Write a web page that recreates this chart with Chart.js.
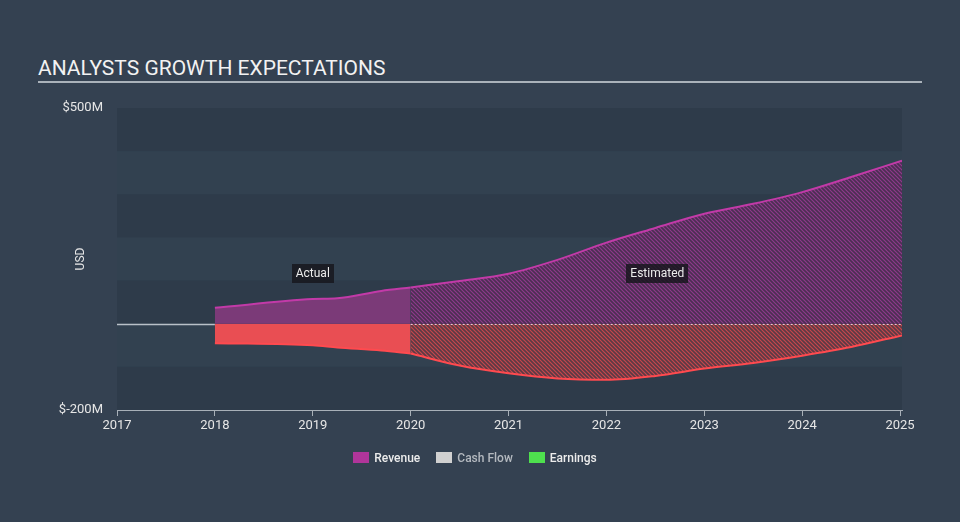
<!DOCTYPE html>
<html>
<head>
<meta charset="utf-8">
<script src="https://cdn.jsdelivr.net/npm/chart.js@4/dist/chart.umd.min.js"></script>
<style>
  html, body { margin:0; padding:0; background:#344151; }
  body { width:960px; height:522px; position:relative; overflow:hidden; font-family:Roboto, "Open Sans", sans-serif; }
  #title { position:absolute; left:38px; top:56px; font-size:21px; color:#f2f2f2; letter-spacing:0; white-space:nowrap; }
  #rule { position:absolute; left:38px; top:81px; width:884px; height:2px; background:#aab2ba; }
  #wrap { position:absolute; left:0; top:0; width:960px; height:522px; }
  #legend { position:absolute; left:-5px; width:960px; top:450px; text-align:center; font-size:12px; font-weight:500; }
  .li { display:inline-block; margin:0 8px; vertical-align:middle; }
  .sw { display:inline-block; width:16px; height:11px; vertical-align:-1px; margin-right:5px; }
</style>
</head>
<body>
<div id="title">ANALYSTS GROWTH EXPECTATIONS</div>
<div id="rule"></div>
<div id="wrap"><canvas id="c" width="960" height="522"></canvas></div>
<div id="legend"></div>
<script>
// ---- data ----
const years = [2017, 2018, 2019, 2020, 2021, 2022, 2023, 2024, 2025];
const revenueActualX = [2018, 2019, 2019.25, 2019.7, 2020];
const revenueActualY = [37, 57, 59, 76, 84];
const revenueEstX = [2020, 2020.5, 2021, 2021.5, 2022, 2022.5, 2023, 2023.5, 2024, 2024.5, 2025.02];
const revenueEstY = [84, 99, 116, 148, 188, 222, 255, 278, 305, 340, 378];
const earningsActualX = [2018, 2019, 2019.25, 2019.7, 2020];
const earningsActualY = [-45, -50, -55, -62, -69];
const earningsEstX = [2020, 2020.5, 2021, 2021.5, 2022, 2022.5, 2023, 2023.5, 2024, 2024.5, 2025.02];
const earningsEstY = [-69, -97, -115, -127, -130, -121, -104, -91, -74, -54, -27];
const yTickLabels = { 500: '$500M', '-200': '$-200M' };
const legendNames = ['Revenue', 'Cash Flow', 'Earnings'];
const notes = [{ text: 'Actual', x: 2019, y: 117 }, { text: 'Estimated', x: 2022.52, y: 117 }];

const zip = (xs, ys) => xs.map((x, i) => ({ x, y: ys[i] }));

const ctx = document.getElementById('c').getContext('2d');
function hatch(bg, line) {
  const c = document.createElement('canvas');
  c.width = 4; c.height = 4;
  const g = c.getContext('2d');
  g.fillStyle = bg; g.fillRect(0, 0, 4, 4);
  g.strokeStyle = line; g.lineWidth = 1.2;
  g.beginPath();
  g.moveTo(0, 0); g.lineTo(4, 4);
  g.moveTo(-1, 3); g.lineTo(1, 5);
  g.moveTo(3, -1); g.lineTo(5, 1);
  g.stroke();
  return ctx.createPattern(c, 'repeat');
}

const revLine = '#c23aa8';
const earnLine = '#ff4a4f';

// legend (HTML)
const legendColors = ['#b0359a', '#d0d0d0', '#4ee04e'];
const legendText = ['#ececec', '#b4b9bf', '#ececec'];
document.getElementById('legend').innerHTML = legendNames.map((n, i) =>
  `<span class="li"><span class="sw" style="background:${legendColors[i]}"></span><span style="color:${legendText[i]}">${n}</span></span>`).join('');

const bands = {
  id: 'bands',
  beforeDatasetsDraw(chart) {
    const { ctx, chartArea: a, scales: { y } } = chart;
    ctx.save();
    let k = 0;
    for (let v = 500; v > -200; v -= 100, k++) {
      const t = y.getPixelForValue(v), b = y.getPixelForValue(v - 100);
      ctx.fillStyle = (k % 2 === 0) ? '#2e3b4a' : '#324150';
      ctx.fillRect(a.left, t, a.right - a.left, b - t);
    }
    ctx.restore();
  }
};

const overlay = {
  id: 'overlay',
  afterDatasetsDraw(chart) {
    const { ctx, chartArea: a, scales: { x, y } } = chart;
    const y0 = Math.round(y.getPixelForValue(0)) + 0.5;
    const xs = x.getPixelForValue(2020);
    ctx.save();
    ctx.lineWidth = 1.5;
    ctx.strokeStyle = '#b9c0c8';
    ctx.beginPath(); ctx.moveTo(a.left, y0); ctx.lineTo(x.getPixelForValue(2018), y0); ctx.stroke();
    ctx.strokeStyle = 'rgba(240,215,225,0.9)';
    ctx.lineWidth = 1;
    ctx.setLineDash([2, 2]);
    ctx.beginPath(); ctx.moveTo(xs, y0); ctx.lineTo(a.right, y0); ctx.stroke();
    ctx.setLineDash([]);
    ctx.font = '12px Roboto';
    ctx.textAlign = 'center'; ctx.textBaseline = 'middle';
    notes.forEach(n => {
      const px = x.getPixelForValue(n.x), py = y.getPixelForValue(n.y);
      const w = ctx.measureText(n.text).width + 8;
      ctx.fillStyle = 'rgba(22,22,28,0.82)';
      ctx.fillRect(Math.round(px - w / 2), Math.round(py - 9.5), Math.round(w), 19);
      ctx.fillStyle = '#ececec';
      ctx.fillText(n.text, px, py + 0.5);
    });
    ctx.restore();
  }
};

new Chart(ctx, {
  type: 'line',
  data: {
    datasets: [
      { label: 'Revenue', data: zip(revenueActualX, revenueActualY), borderColor: revLine, borderWidth: 2,
        backgroundColor: '#7b3a78', fill: 'origin' },
      { label: 'Revenue est', data: zip(revenueEstX, revenueEstY), borderColor: revLine, borderWidth: 2,
        backgroundColor: hatch('#4b2f52', '#8f3a8c'), fill: 'origin' },
      { label: 'Earnings', data: zip(earningsActualX, earningsActualY), borderColor: earnLine, borderWidth: 2,
        backgroundColor: '#e94e53', fill: 'origin' },
      { label: 'Earnings est', data: zip(earningsEstX, earningsEstY), borderColor: earnLine, borderWidth: 2,
        backgroundColor: hatch('#5a3a45', '#c8474d'), fill: 'origin' }
    ]
  },
  options: {
    responsive: false,
    animation: false,
    elements: { point: { radius: 0, hoverRadius: 0 }, line: { cubicInterpolationMode: 'monotone' } },
    layout: { padding: { left: 40, right: 58, top: 108, bottom: 82 } },
    plugins: { legend: { display: false }, tooltip: { enabled: false } },
    scales: {
      x: {
        type: 'linear', min: 2017, max: 2025.02,
        afterBuildTicks: s => { s.ticks = years.map(v => ({ value: v })); },
        afterFit: s => { s.height = 30; },
        grid: { drawOnChartArea: false, drawTicks: true, tickLength: 6, color: '#a8b0b8' },
        border: { display: true, color: '#a8b0b8', width: 1 },
        ticks: { color: '#e6e6e6', font: { family: 'Roboto', size: 13 }, padding: 2, maxRotation: 0,
          callback: v => String(v) }
      },
      y: {
        min: -200, max: 500,
        afterBuildTicks: s => { s.ticks = Object.keys(yTickLabels).map(v => ({ value: +v })); },
        afterFit: s => { s.width = 77; },
        grid: { display: false, drawTicks: false },
        border: { display: false },
        title: { display: true, text: 'USD', color: '#e6e6e6', font: { family: 'Roboto', size: 12 }, padding: { top: 34, bottom: 0 } },
        ticks: { color: '#e6e6e6', font: { family: 'Roboto', size: 13 }, padding: 14,
          callback: v => yTickLabels[v] || '' }
      }
    }
  },
  plugins: [bands, overlay]
});
</script>
</body>
</html>
